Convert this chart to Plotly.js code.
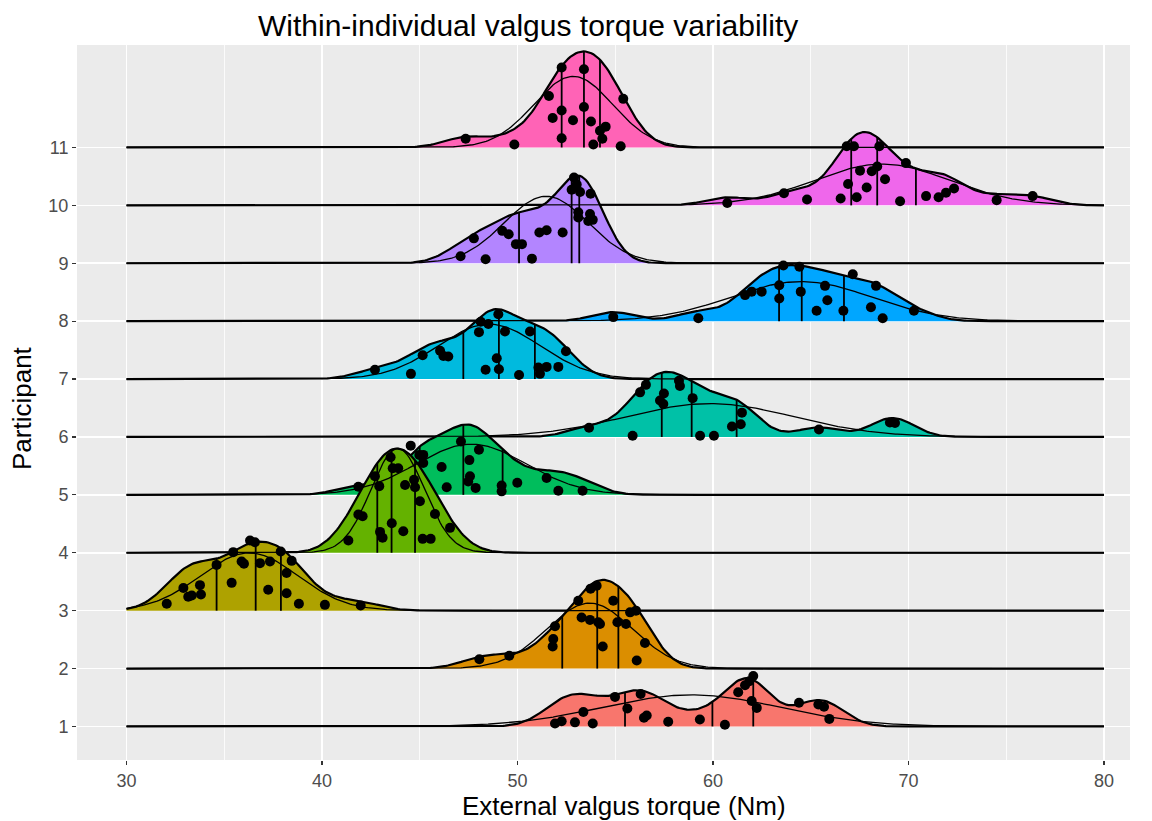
<!DOCTYPE html>
<html>
<head>
<meta charset="utf-8">
<script src="https://cdn.plot.ly/plotly-3.0.1.min.js"></script>
<style>html,body{margin:0;padding:0;background:#fff;}#chart{width:1152px;height:821px;}</style>
</head>
<body>
<div id="chart"></div>
<script>
// ---- Data ----
const participants = ['1','2','3','4','5','6','7','8','9','10','11'];
const fillColors = ['#F8766D','#DB8E00','#AEA200','#64B200','#00BD5C','#00C1A7','#00BADE','#00A6FF','#B385FF','#EF67EB','#FF63B6'];

// torque values (Nm) per participant
const torque1 = [51.92,52.26,52.94,53.37,53.85,54.99,55.62,56.30,56.47,56.61,57.71,59.33,60.61,61.29,61.64,61.86,62.06,61.98,62.24,64.40,65.39,65.68,65.95];
const torque2 = [48.05,49.58,51.80,51.83,51.92,53.11,53.28,53.71,53.74,54.05,54.13,54.22,54.36,54.90,55.11,55.55,55.76,56.06,56.52,56.10];
const torque3 = [32.06,32.91,33.16,33.34,33.81,33.76,34.61,35.38,35.46,35.89,36.01,36.32,36.57,36.83,37.25,37.34,37.89,38.19,38.19,38.45,38.82,40.15,41.98];
const torque4 = [41.35,41.86,42.08,42.71,42.93,42.97,43.10,43.51,43.57,43.62,43.90,44.16,44.25,44.71,44.76,45.01,45.15,45.56,45.78,46.55];
const torque5 = [41.86,44.54,44.98,45.18,45.18,46.12,46.38,47.11,47.54,47.57,47.48,47.86,48.03,49.19,49.19,49.99,51.49,52.09,53.33];
const torque6 = [53.66,55.89,56.27,56.57,57.29,57.49,57.46,58.26,58.31,58.96,59.34,60.05,60.97,61.42,61.48,65.42,69.05,69.31];
const torque7 = [42.71,44.55,45.15,46.04,46.21,46.46,48.03,48.12,48.51,48.37,48.94,49.05,49.02,49.36,50.08,50.64,51.07,51.15,51.49,52.09,52.48];
const torque8 = [54.90,59.25,61.64,61.98,62.49,63.39,63.39,63.60,64.42,64.49,65.30,65.73,65.85,66.67,67.15,68.34,68.08,68.68,70.28];
const torque9 = [47.09,48.37,47.77,49.22,49.55,49.92,50.23,50.74,51.12,51.49,52.31,52.89,53.03,52.77,53.20,53.74,53.11,53.11,53.71,53.85,53.62];
const torque10 = [60.73,63.63,64.81,66.53,66.91,67.35,66.84,67.21,67.52,67.86,68.12,68.40,68.51,68.80,69.57,69.87,70.90,71.54,71.92,72.33,74.51,76.35];
const torque11 = [47.35,49.84,51.61,52.26,52.26,51.80,52.26,52.84,53.40,53.40,53.76,53.88,54.22,54.51,54.34,55.41,55.28];

// vertical jitter of each plotted point (participant units above its baseline)
const jitter1 = [0.05,0.09,0.07,0.25,0.05,0.51,0.31,0.56,0.15,0.19,0.08,0.12,0.03,0.59,0.71,0.78,0.87,0.44,0.32,0.41,0.38,0.34,0.13];
const jitter2 = [0.16,0.22,0.38,0.51,0.73,1.17,0.88,0.84,1.38,1.43,0.80,0.77,0.38,1.17,0.80,0.77,0.97,1.00,0.44,0.14];
const jitter3 = [0.12,0.39,0.24,0.26,0.28,0.44,0.79,0.48,1.01,0.85,0.81,1.21,1.18,0.82,0.36,0.85,1.02,0.65,0.30,0.86,0.12,0.10,0.09];
const jitter4 = [0.21,0.66,0.63,1.32,1.15,0.36,0.26,1.65,0.51,1.46,1.46,0.37,1.17,1.26,1.13,0.89,0.24,0.24,0.67,0.43];
const jitter5 = [0.14,0.85,0.69,0.69,0.55,0.48,0.13,0.92,0.60,0.32,0.23,0.12,0.78,0.16,0.06,0.21,0.29,0.07,0.07];
const jitter6 = [0.16,0.02,0.77,0.90,0.63,0.75,0.57,0.97,0.88,0.67,0.02,0.02,0.18,0.22,0.42,0.13,0.25,0.24];
const jitter7 = [0.16,0.09,0.41,0.49,0.40,0.39,0.81,0.99,0.95,0.16,0.36,0.17,1.12,0.82,0.07,0.82,0.20,0.09,0.21,0.21,0.48];
const jitter8 = [0.07,0.05,0.45,0.51,0.51,0.62,0.39,0.96,0.94,0.51,0.18,0.61,0.36,0.18,0.81,0.61,0.24,0.05,0.18];
const jitter9 = [0.12,0.07,0.43,0.56,0.50,0.33,0.33,0.08,0.53,0.57,0.53,1.48,1.36,1.27,1.23,1.20,0.88,0.79,0.85,0.75,0.73];
const jitter10 = [0.04,0.21,0.10,0.12,0.37,0.14,1.02,1.02,0.60,0.31,0.59,0.67,1.02,0.45,0.07,0.73,0.16,0.14,0.22,0.29,0.09,0.16];
const jitter11 = [0.15,0.05,0.89,1.38,0.64,0.51,0.16,0.47,1.35,0.70,0.45,0.05,0.29,0.36,0.15,0.84,0.02];

// quartile lines (25%, 50%, 75%) per participant
const quartiles1 = [55.50,59.97,62.06];
const quartiles2 = [52.29,54.08,55.16];
const quartiles3 = [34.61,36.61,37.90];
const quartiles4 = [42.83,43.56,44.76];
const quartiles5 = [45.00,47.23,49.24];
const quartiles6 = [57.38,58.91,61.21];
const quartiles7 = [47.23,49.05,50.89];
const quartiles8 = [63.38,64.54,66.70];
const quartiles9 = [50.08,52.77,53.16];
const quartiles10 = [67.07,68.40,70.38];
const quartiles11 = [52.26,53.40,54.22];

const xTicks = [30,40,50,60,70,80];

// ---- assemble ----
const torque = [torque1,torque2,torque3,torque4,torque5,torque6,torque7,torque8,torque9,torque10,torque11];
const jitter = [jitter1,jitter2,jitter3,jitter4,jitter5,jitter6,jitter7,jitter8,jitter9,jitter10,jitter11];
const quartiles = [quartiles1,quartiles2,quartiles3,quartiles4,quartiles5,quartiles6,quartiles7,quartiles8,quartiles9,quartiles10,quartiles11];

const X_FROM = 30, X_TO = 80, NGRID = 512, SCALE = 1.8, BW_ADJUST = 0.88;
function mean(a){return a.reduce((s,v)=>s+v,0)/a.length;}
function sd(a){const m=mean(a);return Math.sqrt(a.reduce((s,v)=>s+(v-m)*(v-m),0)/(a.length-1));}
function quantile(a,p){const s=[...a].sort((x,y)=>x-y);const h=(s.length-1)*p;const lo=Math.floor(h);return s[lo]+(h-lo)*((s[Math.min(lo+1,s.length-1)])-s[lo]);}
function bwNrd0(a){const hi=sd(a);const iqr=quantile(a,0.75)-quantile(a,0.25);const lo=Math.min(hi,iqr/1.34)||hi;return 0.9*lo*Math.pow(a.length,-0.2);}
const bw = mean(torque.map(bwNrd0))*BW_ADJUST;

const grid = [];
for(let i=0;i<NGRID;i++) grid.push(X_FROM+(X_TO-X_FROM)*i/(NGRID-1));
const SQ2PI = Math.sqrt(2*Math.PI);
function kde(a,x){let s=0;for(const v of a){const z=(x-v)/bw;s+=Math.exp(-0.5*z*z);}return s/(a.length*bw*SQ2PI);}
function dnorm(x,m,s){const z=(x-m)/s;return Math.exp(-0.5*z*z)/(s*SQ2PI);}

const dens = torque.map(a=>grid.map(x=>kde(a,x)));
const maxDens = Math.max(...dens.map(d=>Math.max(...d)));
const k = SCALE/maxDens;
const norms = torque.map(a=>{const m=mean(a),s=sd(a);return grid.map(x=>dnorm(x,m,s));});
const maxNorm = Math.max(...norms.map(d=>Math.max(...d)));
const kn = SCALE/maxNorm;

const traces = [];
for(let g=participants.length-1; g>=0; g--){
  const base = g+1;
  const yTop = dens[g].map(d=>base+d*k);
  traces.push({type:'scatter',mode:'lines',x:[...grid,X_TO,X_FROM],y:[...yTop,base,base],fill:'toself',fillcolor:fillColors[g],line:{width:0},hoverinfo:'skip',showlegend:false});
  traces.push({type:'scatter',mode:'lines',x:grid,y:yTop,line:{color:'#000',width:2.2},hoverinfo:'skip',showlegend:false});
  const qx=[],qy=[];
  for(const q of quartiles[g]){qx.push(q,q,null);qy.push(base,base+kde(torque[g],q)*k,null);}
  traces.push({type:'scatter',mode:'lines',x:qx,y:qy,line:{color:'#000',width:1.8},hoverinfo:'skip',showlegend:false});
  traces.push({type:'scatter',mode:'markers',x:torque[g],y:jitter[g].map(h=>base+h),marker:{color:'#000',size:10},hoverinfo:'skip',showlegend:false});
}
for(let g=participants.length-1; g>=0; g--){
  traces.push({type:'scatter',mode:'lines',x:grid,y:norms[g].map(d=>g+1+d*kn),line:{color:'#000',width:1.3},hoverinfo:'skip',showlegend:false});
}

const PL=77, PR=1130, PT=45, PB=760;
const layout = {
  width:1152,height:821,
  margin:{l:PL,r:1152-PR,t:PT,b:821-PB},
  paper_bgcolor:'#fff',plot_bgcolor:'#EBEBEB',
  font:{family:'Liberation Sans, Arial, sans-serif',color:'#000'},
  title:{text:'Within-individual valgus torque variability',x:258/1152,xref:'container',xanchor:'left',y:1-25/821,yref:'container',yanchor:'middle',font:{size:30,color:'#000'}},
  xaxis:{range:[27.47,81.33],tickvals:xTicks,ticktext:xTicks.map(String),ticks:'outside',ticklen:4,tickwidth:1.1,tickcolor:'#333',
    tickfont:{size:18,color:'#4D4D4D'},showgrid:true,gridcolor:'#fff',gridwidth:1.6,zeroline:false,showline:false,
    minor:{dtick:5,tick0:25,showgrid:true,gridcolor:'#fff',gridwidth:0.8,ticks:''}},
  yaxis:{range:[0.42,12.77],tickvals:participants.map((p,i)=>i+1),ticktext:participants,ticks:'outside',ticklen:4,tickwidth:1.1,tickcolor:'#333',
    tickfont:{size:18,color:'#4D4D4D'},showgrid:true,gridcolor:'#fff',gridwidth:1.6,zeroline:false,showline:false},
  annotations:[
    {text:'External valgus torque (Nm)',xref:'paper',yref:'paper',x:(624-PL)/(PR-PL),y:(PB-806)/(PB-PT),xanchor:'center',yanchor:'middle',showarrow:false,font:{size:26,color:'#000'}},
    {text:'Participant',xref:'paper',yref:'paper',x:(22-PL)/(PR-PL),y:(PB-408)/(PB-PT),xanchor:'center',yanchor:'middle',textangle:-90,showarrow:false,font:{size:26,color:'#000'}}
  ]
};
Plotly.newPlot('chart',traces,layout,{staticPlot:true,displayModeBar:false});
</script>
</body>
</html>
